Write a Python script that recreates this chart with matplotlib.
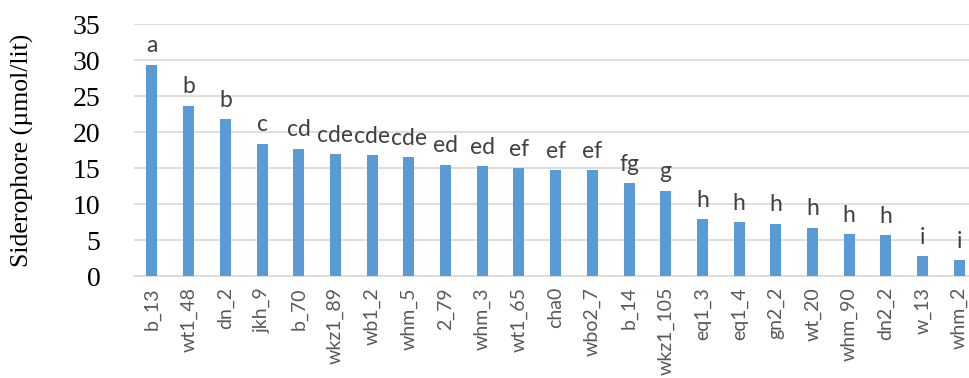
import matplotlib
matplotlib.use("Agg")
import matplotlib.pyplot as plt
import numpy as np

categories = ["b_13", "wt1_48", "dn_2", "jkh_9", "b_70", "wkz1_89", "wb1_2", "whm_5",
              "2_79", "whm_3", "wt1_65", "cha0", "wbo2_7", "b_14", "wkz1_105", "eq1_3",
              "eq1_4", "gn2_2", "wt_20", "whm_90", "dn2_2", "w_13", "whm_2"]
values = [29.4, 23.7, 21.8, 18.4, 17.7, 16.9, 16.8, 16.5, 15.5, 15.3, 14.95, 14.7,
          14.7, 12.9, 11.85, 7.9, 7.45, 7.3, 6.7, 5.85, 5.7, 2.8, 2.2]
letters = ["a", "b", "b", "c", "cd", "cde", "cde", "cde", "ed", "ed", "ef", "ef",
           "ef", "fg", "g", "h", "h", "h", "h", "h", "h", "i", "i"]
yticks = [0, 5, 10, 15, 20, 25, 30, 35]

W, H = 970, 378
fig = plt.figure(figsize=(W / 100, H / 100), dpi=100)
left = 133.6 / W
right = 977.7 / W
bottom = 1 - 276 / H
top = 1 - 24.3 / H
ax = fig.add_axes([left, bottom, right - left, top - bottom])

x = np.arange(len(categories))
bars = ax.bar(x, values, width=0.3, color="#5B9BD5", zorder=3)
ax.set_xlim(-0.5, len(categories) - 0.5)
ax.set_ylim(0, 35)
ax.set_yticks(yticks)
ax.yaxis.grid(True, color="#D9D9D9", linewidth=1.2, zorder=0)
for s in ["top", "right", "left"]:
    ax.spines[s].set_visible(False)
ax.spines["bottom"].set_color("#D9D9D9")
ax.spines["bottom"].set_linewidth(1.2)
ax.tick_params(axis="y", length=0, pad=24, labelsize=20)
for lab in ax.get_yticklabels():
    lab.set_fontfamily("Liberation Serif")
ax.set_xticks(x)
ax.set_xticklabels(categories, rotation=90, fontsize=14, family="Lato",
                   color="#595959", va="top", ha="center")
ax.tick_params(axis="x", length=0, pad=8)

for xi, v, t in zip(x, values, letters):
    ax.annotate(t, (xi, v), xytext=(0, 6), textcoords="offset points",
                ha="center", va="bottom", fontsize=16.5, family="Lato", color="#404040")

ax.set_ylabel("Siderophore (\u00b5mol/lit)", family="Liberation Serif", fontsize=18.5)
ax.yaxis.set_label_coords(-(133.6 - 34) / (right - left) / W, 0.5)

fig.savefig("out.png", dpi=100)
